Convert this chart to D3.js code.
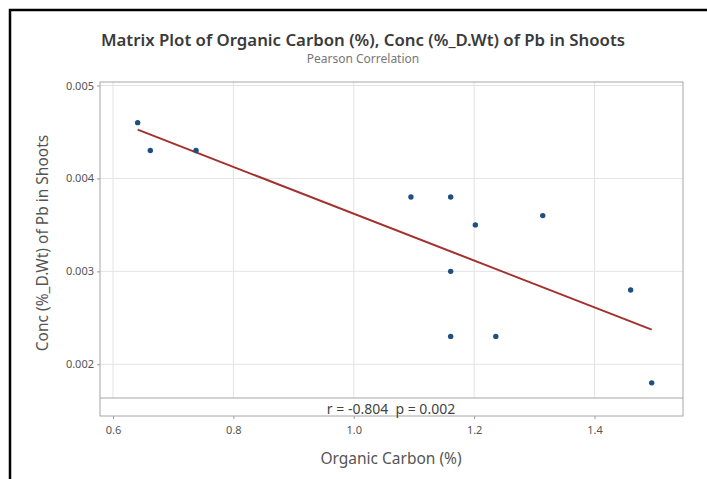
<!DOCTYPE html>
<html><head><meta charset="utf-8">
<script src="https://cdn.jsdelivr.net/npm/d3@7"></script>
<style>body{margin:0;background:#fff;}svg{display:block;}</style>
</head><body>
<script>
const organicCarbon = [0.641, 0.662, 0.738, 1.095, 1.161, 1.202, 1.314, 1.161, 1.460, 1.161, 1.236, 1.495];
const pbShoots      = [0.0046, 0.0043, 0.0043, 0.0038, 0.0038, 0.0035, 0.0036, 0.0030, 0.0028, 0.0023, 0.0023, 0.0018];
const xTicks = [0.6, 0.8, 1.0, 1.2, 1.4];
const yTicks = [0.002, 0.003, 0.004, 0.005];
const xTickLabels = ["0.6", "0.8", "1.0", "1.2", "1.4"];
const yTickLabels = ["0.002", "0.003", "0.004", "0.005"];
const titleText = "Matrix Plot of Organic Carbon (%), Conc (%_D.Wt) of Pb in Shoots";
const subtitleText = "Pearson Correlation";
const xLabel = "Organic Carbon (%)";
const yLabel = "Conc (%_D.Wt) of Pb in Shoots";
const corrText = "r = -0.804  p = 0.002";

const W = 707, H = 479;
const svg = d3.select("body").append("svg").attr("width", W).attr("height", H);
const font = "'Noto Sans', 'Open Sans', sans-serif";

// outer black frame (cropped)
svg.append("path").attr("d", `M10,${H+5} L10,10 L${W+5},10`).attr("fill","none").attr("stroke","#000").attr("stroke-width",2.5);

const L = 100, R = 683, T = 82, SEP = 398, B = 416;
const x = d3.scaleLinear().domain([0.5784, 1.5470]).range([L, R]);
const y = d3.scaleLinear().domain([0.001637, 0.0050377]).range([SEP, T]);

// gridlines
const g = svg.append("g");
g.selectAll(".vg").data(xTicks).join("line")
  .attr("x1", d => x(d)).attr("x2", d => x(d)).attr("y1", T).attr("y2", SEP)
  .attr("stroke", "#e3e3e3").attr("stroke-width", 1);
g.selectAll(".hg").data(yTicks).join("line")
  .attr("x1", L).attr("x2", R).attr("y1", d => y(d)).attr("y2", d => y(d))
  .attr("stroke", "#e3e3e3").attr("stroke-width", 1);

// axes
const xAxis = d3.axisBottom(x).tickValues(xTicks).tickFormat((d,i) => xTickLabels[i]).tickSize(3).tickPadding(7);
const yAxis = d3.axisLeft(y).tickValues(yTicks).tickFormat((d,i) => yTickLabels[i]).tickSize(3).tickPadding(3);
const xa = svg.append("g").attr("transform", `translate(0,${B})`).call(xAxis);
const ya = svg.append("g").attr("transform", `translate(${L},0)`).call(yAxis);
[xa, ya].forEach(a => {
  a.select(".domain").remove();
  a.selectAll("line").attr("stroke", "#999");
  a.selectAll("text").attr("fill", "#555").style("font-family", font).style("font-size", "11px");
});

// frame
svg.append("rect").attr("x", L).attr("y", T).attr("width", R - L).attr("height", B - T)
  .attr("fill", "none").attr("stroke", "#a6a6a6").attr("stroke-width", 1);
svg.append("line").attr("x1", L).attr("x2", R).attr("y1", SEP).attr("y2", SEP)
  .attr("stroke", "#a6a6a6").attr("stroke-width", 1);

// regression line (OLS)
const mx = d3.mean(organicCarbon), my = d3.mean(pbShoots);
let sxy = 0, sxx = 0;
organicCarbon.forEach((v, i) => { sxy += (v - mx) * (pbShoots[i] - my); sxx += (v - mx) ** 2; });
const slope = sxy / sxx, icpt = my - slope * mx;
const xmin = d3.min(organicCarbon), xmax = d3.max(organicCarbon);
svg.append("line").attr("x1", x(xmin)).attr("y1", y(icpt + slope * xmin))
  .attr("x2", x(xmax)).attr("y2", y(icpt + slope * xmax))
  .attr("stroke", "#a3302c").attr("stroke-width", 2);

// points
svg.selectAll(".pt").data(organicCarbon).join("circle")
  .attr("cx", d => x(d)).attr("cy", (d, i) => y(pbShoots[i])).attr("r", 2.7)
  .attr("fill", "#1f4f7f");

// texts
svg.append("text").attr("x", 363).attr("y", 46).attr("text-anchor", "middle")
  .style("font-family", font).style("font-size", "16.8px").style("font-weight", 600).attr("fill", "#3a3a3a").text(titleText);
svg.append("text").attr("x", 363).attr("y", 63).attr("text-anchor", "middle")
  .style("font-family", font).style("font-size", "12px").attr("fill", "#777").text(subtitleText);
svg.append("text").attr("x", 391).attr("y", 414).attr("text-anchor", "middle")
  .style("font-family", font).style("font-size", "14px").attr("fill", "#444").attr("xml:space","preserve").text(corrText);
svg.append("text").attr("x", 391).attr("y", 464).attr("text-anchor", "middle")
  .style("font-family", font).style("font-size", "15.5px").attr("fill", "#555").text(xLabel);
svg.append("text").attr("transform", "translate(48,243) rotate(-90)").attr("text-anchor", "middle")
  .style("font-family", font).style("font-size", "15.5px").attr("fill", "#555").text(yLabel);
</script>
</body></html>
